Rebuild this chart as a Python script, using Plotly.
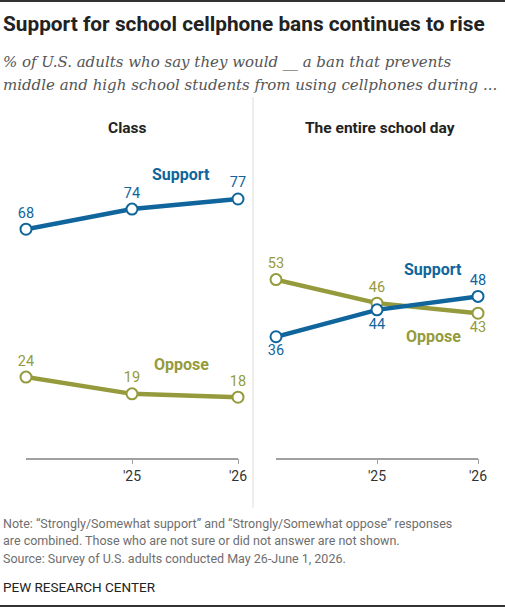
import plotly.graph_objects as go

# survey waves (first wave has no tick label)
years = [2024, 2025, 2026]
tick_vals = [2025, 2026]
tick_text = ["'25", "'26"]

class_support = [68, 74, 77]
class_oppose = [24, 19, 18]
day_support = [36, 44, 48]
day_oppose = [53, 46, 43]

BLUE = "#0f659c"
OLIVE = "#959b3c"
W, H = 505, 607


def px_x(p):
    return p / W


def px_y(p):
    return 1 - p / H


fig = go.Figure()


def add_line(xa, ya, vals, color, positions):
    fig.add_trace(go.Scatter(
        x=years, y=vals, xaxis=xa, yaxis=ya,
        mode="lines+markers+text",
        line=dict(color=color, width=4.5),
        marker=dict(size=11, color="white", line=dict(color=color, width=2)),
        text=[str(v) for v in vals],
        textposition=positions,
        textfont=dict(family="Roboto", size=14.5, color=color),
        cliponaxis=False, hoverinfo="skip", showlegend=False,
    ))


add_line("x", "y", class_support, BLUE, ["top center"] * 3)
add_line("x", "y", class_oppose, OLIVE, ["top center"] * 3)
add_line("x2", "y2", day_oppose, OLIVE, ["top center", "top center", "bottom center"])
add_line("x2", "y2", day_support, BLUE, ["bottom center", "bottom center", "top center"])

xaxis_common = dict(
    range=[2024, 2026], tickvals=tick_vals, ticktext=tick_text,
    showgrid=False, zeroline=False, showline=True, linecolor="#a0a0a0", linewidth=1.5,
    ticks="outside", ticklen=5, tickcolor="#a0a0a0", tickwidth=1,
    tickfont=dict(family="Roboto", size=14, color="#333333"),
    fixedrange=True, automargin=False,
)
yaxis_common = dict(
    range=[0, 100], visible=False, showgrid=False, zeroline=False,
    domain=[px_y(457.7), px_y(121.7)], fixedrange=True, automargin=False,
)

fig.update_layout(
    width=W, height=H, autosize=False,
    margin=dict(l=0, r=0, t=0, b=0, autoexpand=False),
    paper_bgcolor="white", plot_bgcolor="white",
    xaxis=dict(domain=[px_x(26), px_x(238)], anchor="y", **xaxis_common),
    yaxis=dict(anchor="x", **yaxis_common),
    xaxis2=dict(domain=[px_x(276), px_x(478)], anchor="y2", **xaxis_common),
    yaxis2=dict(anchor="x2", **yaxis_common),
)

# frame lines and panel divider
fig.add_shape(type="line", xref="paper", yref="paper", x0=0, x1=1,
              y0=px_y(1), y1=px_y(1), line=dict(color="#333333", width=2))
fig.add_shape(type="line", xref="paper", yref="paper", x0=0, x1=1,
              y0=px_y(606), y1=px_y(606), line=dict(color="#333333", width=2))
fig.add_shape(type="line", xref="paper", yref="paper", x0=px_x(253), x1=px_x(253),
              y0=px_y(97), y1=px_y(508), line=dict(color="#dddddd", width=1))


def note(text, x, y, size, color, family="Roboto", anchor="left", bold=False, italic=False):
    if bold:
        text = "<b>" + text + "</b>"
    if italic:
        text = "<i>" + text + "</i>"
    fig.add_annotation(text=text, xref="paper", yref="paper", x=px_x(x), y=px_y(y),
                       xanchor=anchor, yanchor="middle", showarrow=False,
                       font=dict(family=family, size=size, color=color))


note("Support for school cellphone bans continues to rise", 1, 24, 20.8, "#222222", bold=True)
note("% of U.S. adults who say they would __ a ban that prevents", 1, 62, 15,
     "#555555", family="DejaVu Serif", italic=True)
note("middle and high school students from using cellphones during ...", 1, 85, 15,
     "#555555", family="DejaVu Serif", italic=True)

note("Class", 127, 128, 15.5, "#222222", anchor="center", bold=True)
note("The entire school day", 380, 128, 15.5, "#222222", anchor="center", bold=True)

# series labels
note("Support", 181, 174, 16, BLUE, anchor="center", bold=True)
note("Oppose", 181, 364, 16, OLIVE, anchor="center", bold=True)
note("Support", 433, 270, 16, BLUE, anchor="center", bold=True)
note("Oppose", 433, 337, 16, OLIVE, anchor="center", bold=True)

note("Note: \u201cStrongly/Somewhat support\u201d and \u201cStrongly/Somewhat oppose\u201d responses",
     1, 523, 12.5, "#6e6e6e")
note("are combined. Those who are not sure or did not answer are not shown.", 1, 540, 12.5, "#6e6e6e")
note("Source: Survey of U.S. adults conducted May 26-June 1, 2026.", 1, 558, 12.5, "#6e6e6e")
note("PEW RESEARCH CENTER", 1, 587, 13.5, "#222222")

# page body has a default 8px margin and may scroll; drop both
fig.write_html(
    "out.html",
    config={"displayModeBar": False, "responsive": False},
    post_script="document.body.style.margin='0';document.body.style.overflow='hidden';",
)
